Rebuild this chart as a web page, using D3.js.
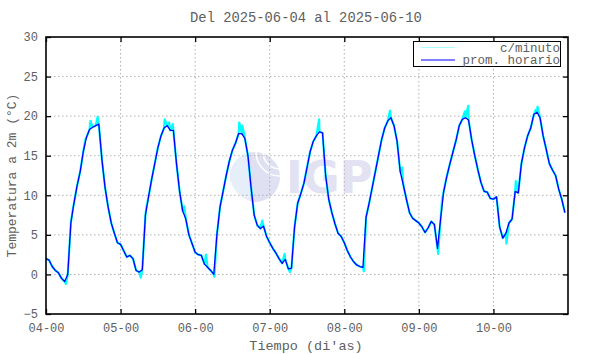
<!DOCTYPE html>
<html>
<head>
<meta charset="utf-8">
<script src="https://cdn.jsdelivr.net/npm/d3@7"></script>
<style>
body { margin: 0; background: #fff; }
text { font-family: "Liberation Mono", "DejaVu Sans Mono", monospace; fill: #606060; }
</style>
</head>
<body>
<svg id="chart" width="590" height="354"></svg>
<script>
// hourly averages, one array per day (00h..23h)
var day04 = [2.0, 1.8, 1.0, 0.5, 0.2, -0.5, -0.9, 0.0, 6.5, 9.0, 11.2, 13.0, 15.5, 17.3, 18.3, 18.6, 18.8, 19.0, 14.5, 11.0, 8.5, 6.5, 5.2, 4.0];
var day05 = [3.8, 3.0, 2.2, 2.4, 2.0, 0.5, 0.3, 0.6, 7.5, 9.8, 12.0, 14.0, 16.0, 17.5, 18.5, 18.8, 18.2, 18.2, 14.0, 10.5, 8.0, 7.0, 5.0, 3.9];
var day06 = [2.8, 2.5, 2.4, 1.3, 0.9, 0.5, 0.0, 5.0, 8.5, 10.5, 12.5, 14.3, 15.7, 16.6, 17.8, 17.8, 17.2, 15.0, 11.0, 7.5, 6.2, 5.8, 6.1, 4.8];
var day07 = [4.0, 3.3, 2.7, 2.0, 1.4, 1.9, 0.7, 0.8, 6.0, 9.0, 10.2, 11.5, 13.5, 15.5, 16.8, 17.5, 18.0, 17.9, 12.5, 9.5, 7.8, 6.4, 5.2, 4.8];
var day08 = [4.0, 3.0, 2.2, 1.6, 1.2, 1.0, 0.9, 7.2, 9.0, 11.0, 13.0, 15.0, 17.0, 18.5, 19.4, 19.8, 18.8, 16.8, 13.0, 11.3, 9.5, 7.8, 7.1, 6.8];
var day09 = [6.5, 6.0, 5.3, 5.9, 6.7, 6.3, 3.3, 7.0, 10.5, 12.4, 14.0, 15.5, 17.0, 18.8, 19.6, 19.8, 19.5, 17.0, 15.0, 13.2, 11.6, 10.5, 10.4, 9.6];
var day10 = [9.5, 9.8, 6.0, 4.6, 5.2, 6.5, 7.0, 10.5, 10.3, 14.0, 16.0, 17.5, 18.5, 20.2, 20.5, 19.8, 17.5, 15.8, 14.0, 13.2, 12.5, 10.8, 9.5, 7.8];

// minute readings that stand out from the hourly mean: [hour from start, value]
var minuteSpikes = [
  [6.4, -1.2], [8.6, 8.2], [12.6, 17.0], [14.3, 19.4], [16.6, 19.9],
  [30.5, -0.4], [32.3, 8.5], [38.2, 19.6], [39.6, 19.2], [40.8, 19.0], [44.5, 8.6],
  [51.5, 2.5], [54.2, -0.3], [62.2, 19.2], [63.2, 18.8], [69.6, 6.8],
  [76.8, 2.6], [78.5, 0.3], [87.9, 19.6],
  [102.3, 0.4], [110.7, 20.7], [114.6, 13.5],
  [126.2, 2.6], [127.5, 9.6], [134.8, 20.6], [135.9, 21.3],
  [148.2, 3.9], [151.2, 11.8], [157.6, 20.8], [158.2, 21.2]
];

var dayLabels = ["04-00", "05-00", "06-00", "07-00", "08-00", "09-00", "10-00"];
var yTicks = [-5, 0, 5, 10, 15, 20, 25, 30];

var hourly = [].concat(day04, day05, day06, day07, day08, day09, day10).map(function (v, i) {
    return {t: i, v: v};
});
var minute = hourly.concat(minuteSpikes.map(function (d) { return {t: d[0], v: d[1]}; }))
    .sort(function (a, b) { return a.t - b.t; });

var svg = d3.select("#chart"),
    margin = {top: 37, right: 22, bottom: 40, left: 46},
    width = +svg.attr("width") - margin.left - margin.right,
    height = +svg.attr("height") - margin.top - margin.bottom,
    g = svg.append("g").attr("transform", "translate(" + margin.left + "," + margin.top + ")");

var x = d3.scaleLinear().domain([0, 168]).range([0, width]);
var y = d3.scaleLinear().domain([-5, 30]).range([height, 0]);
var xTicks = dayLabels.map(function (d, i) { return i * 24; });

// watermark
var wm = g.append("g").attr("transform", "translate(" + (255 - margin.left) + "," + (177 - margin.top) + ")");
wm.append("circle").attr("r", 25).attr("fill", "#e0e0f3");
wm.append("path").attr("d", "M-25,0 A25,25 0 0,1 -5,-24.5 L-5,24.5 A25,25 0 0,1 -25,0Z").attr("fill", "#e6eefa");
[10, 17, 24].forEach(function (r) {
    wm.append("path").attr("d", "M" + (25 - r) + ",-25 A" + r + "," + r + " 0 0,0 25," + (r - 25))
        .attr("fill", "none").attr("stroke", "#fff").attr("stroke-width", 1.5);
});
[12, 20].forEach(function (r) {
    wm.append("path").attr("d", "M-25," + (25 - r) + " A" + (r + 14) + "," + (r + 14) + " 0 0,0 " + (r - 25) + ",25")
        .attr("fill", "none").attr("stroke", "#fff").attr("stroke-width", 1.5);
});
g.append("text")
    .attr("x", 286 - margin.left).attr("y", 193 - margin.top)
    .style("font-family", "'DejaVu Sans', sans-serif").style("font-weight", "bold")
    .style("font-size", "45px").style("fill", "#e2e2f3")
    .text("IGP");

// grid
g.append("g").selectAll("line").data(xTicks.slice(1)).enter().append("line")
    .attr("x1", function (d) { return x(d); }).attr("x2", function (d) { return x(d); })
    .attr("y1", 0).attr("y2", height)
    .attr("stroke", "#b0b0b0").attr("stroke-dasharray", "1.5,2.5");
g.append("g").selectAll("line").data(yTicks.slice(1, -1)).enter().append("line")
    .attr("y1", function (d) { return y(d); }).attr("y2", function (d) { return y(d); })
    .attr("x1", 0).attr("x2", width)
    .attr("stroke", "#b0b0b0").attr("stroke-dasharray", "1.5,2.5");

// series
var line = d3.line().x(function (d) { return x(d.t); }).y(function (d) { return y(d.v); });
g.append("path").datum(minute).attr("d", line)
    .attr("fill", "none").attr("stroke", "cyan").attr("stroke-width", 2.2).attr("stroke-linejoin", "round");
g.append("path").datum(hourly).attr("d", line)
    .attr("fill", "none").attr("stroke", "#0000ff").attr("stroke-width", 1.3).attr("stroke-linejoin", "round");

// axes
var xb = g.append("g").attr("transform", "translate(0," + height + ")")
    .call(d3.axisBottom(x).tickValues(xTicks).tickSize(-5).tickPadding(9)
        .tickFormat(function (d, i) { return dayLabels[i]; }));
var xt = g.append("g").call(d3.axisTop(x).tickValues(xTicks).tickSize(-5).tickFormat(""));
var yl = g.append("g").call(d3.axisLeft(y).tickValues(yTicks).tickSize(-5).tickPadding(8));
var yr = g.append("g").attr("transform", "translate(" + width + ",0)")
    .call(d3.axisRight(y).tickValues(yTicks).tickSize(-5).tickFormat(""));
[xb, xt, yl, yr].forEach(function (a) {
    a.select(".domain").remove();
    a.selectAll("line").attr("stroke", "#000").attr("stroke-width", 1.3);
    a.selectAll("text").style("font-size", "12px").attr("fill", "#606060");
});
g.append("rect").attr("width", width).attr("height", height)
    .attr("fill", "none").attr("stroke", "#000").attr("stroke-width", 1.6);

// titles
svg.append("text").attr("x", 306).attr("y", 22).attr("text-anchor", "middle")
    .style("font-size", "13.8px").text("Del 2025-06-04 al 2025-06-10");
svg.append("text").attr("x", 306).attr("y", 350).attr("text-anchor", "middle")
    .style("font-size", "13.5px").text("Tiempo (di'as)");
svg.append("text").attr("transform", "translate(16," + (margin.top + height / 2) + ") rotate(-90)")
    .attr("text-anchor", "middle").style("font-size", "13px").text("Temperatura a 2m (°C)");

// legend
var legend = svg.append("g");
legend.append("rect").attr("x", 413.5).attr("y", 41.5).attr("width", 147).attr("height", 25)
    .attr("fill", "#fff").attr("stroke", "#000").attr("stroke-width", 1);
var items = [{name: "c/minuto", color: "#aaffff"}, {name: "prom. horario", color: "#0000ff"}];
items.forEach(function (d, i) {
    var yy = 47.5 + i * 12.5;
    legend.append("line").attr("x1", 421).attr("x2", 455).attr("y1", yy).attr("y2", yy)
        .attr("stroke", d.color).attr("stroke-width", 1.2);
    legend.append("text").attr("x", 560).attr("y", yy).attr("dy", "0.35em")
        .attr("text-anchor", "end").style("font-size", "12.5px").text(d.name);
});
</script>
</body>
</html>
